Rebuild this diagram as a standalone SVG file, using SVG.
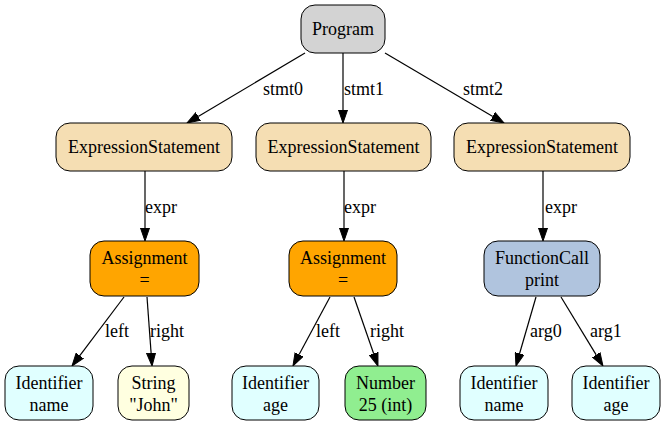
<svg xmlns="http://www.w3.org/2000/svg" width="666" height="426" viewBox="0 0 666 426" font-family="'Liberation Serif', 'DejaVu Serif', serif">
<style>
text{font-size:18px;fill:#000}
.n text{text-anchor:middle}
.n rect{stroke:#000;stroke-width:1}
.e line{stroke:#000;stroke-width:1.2;marker-end:url(#ah)}
.prog{fill:#d3d3d3}.es{fill:#f5deb3}.asg{fill:#ffa500}.fc{fill:#b0c4de}.id{fill:#e0ffff}.str{fill:#ffffe0}.num{fill:#90ee90}
</style>
<defs>
<marker id="ah" markerUnits="userSpaceOnUse" markerWidth="14" markerHeight="10" refX="0" refY="4.5" orient="auto" viewBox="0 0 14 9">
<path d="M0,0 L13,4.5 L0,9 z" fill="#000" stroke="#000" stroke-width="1"/>
</marker>
</defs>
<rect width="666" height="426" fill="#fff"/>
<g id="connectors" class="e">
<line x1="305" y1="53" x2="198.2" y2="116.4"/>
<line x1="343" y1="53" x2="343" y2="110"/>
<line x1="385" y1="53" x2="492.8" y2="116.4"/>
<line x1="145" y1="171" x2="145" y2="228"/>
<line x1="344" y1="171" x2="344" y2="228"/>
<line x1="543" y1="171" x2="543" y2="228"/>
<line x1="124" y1="297" x2="79.8" y2="355.6"/>
<line x1="147" y1="297" x2="151.1" y2="353"/>
<line x1="330" y1="297" x2="299.1" y2="354.5"/>
<line x1="354" y1="297" x2="373.7" y2="353.7"/>
<line x1="536" y1="297" x2="519.6" y2="353.5"/>
<line x1="561" y1="297" x2="596.2" y2="354.9"/>
<text x="263" y="95">stmt0</text>
<text x="344" y="95">stmt1</text>
<text x="463" y="95">stmt2</text>
<text x="145" y="213">expr</text>
<text x="344" y="213">expr</text>
<text x="545" y="213">expr</text>
<text x="105" y="337">left</text>
<text x="150" y="337">right</text>
<text x="316" y="337">left</text>
<text x="370" y="337">right</text>
<text x="530" y="337">arg0</text>
<text x="590" y="337">arg1</text>
</g>
<g id="program" class="n"><rect class="prog" x="301" y="5" width="84" height="48" rx="14"/><text x="343" y="35">Program</text></g>
<g id="es0" class="n"><rect class="es" x="56" y="123" width="176" height="48" rx="14"/><text x="144" y="153">ExpressionStatement</text></g>
<g id="es1" class="n"><rect class="es" x="256" y="123" width="175" height="48" rx="14"/><text x="343.5" y="153">ExpressionStatement</text></g>
<g id="es2" class="n"><rect class="es" x="454" y="123" width="176" height="48" rx="14"/><text x="542" y="153">ExpressionStatement</text></g>
<g id="assign0" class="n"><rect class="asg" x="90" y="241" width="109" height="55" rx="14"/><text x="144.5" y="264">Assignment</text><text x="144.5" y="286">=</text></g>
<g id="assign1" class="n"><rect class="asg" x="289" y="241" width="108" height="55" rx="14"/><text x="343" y="264">Assignment</text><text x="343" y="286">=</text></g>
<g id="call" class="n"><rect class="fc" x="484" y="241" width="116" height="55" rx="14"/><text x="542" y="264">FunctionCall</text><text x="542" y="286">print</text></g>
<g id="id_name0" class="n"><rect class="id" x="5" y="366" width="88" height="54" rx="14"/><text x="49" y="389">Identifier</text><text x="49" y="411">name</text></g>
<g id="str_john" class="n"><rect class="str" x="118" y="366" width="71" height="54" rx="14"/><text x="153.5" y="389">String</text><text x="153.5" y="411">"John"</text></g>
<g id="id_age0" class="n"><rect class="id" x="232" y="366" width="87" height="54" rx="14"/><text x="275.5" y="389">Identifier</text><text x="275.5" y="411">age</text></g>
<g id="num25" class="n"><rect class="num" x="345" y="366" width="81" height="54" rx="14"/><text x="385.5" y="389">Number</text><text x="385.5" y="411">25 (int)</text></g>
<g id="id_name1" class="n"><rect class="id" x="460" y="366" width="88" height="54" rx="14"/><text x="504" y="389">Identifier</text><text x="504" y="411">name</text></g>
<g id="id_age1" class="n"><rect class="id" x="572" y="366" width="88" height="54" rx="14"/><text x="616" y="389">Identifier</text><text x="616" y="411">age</text></g>
</svg>
